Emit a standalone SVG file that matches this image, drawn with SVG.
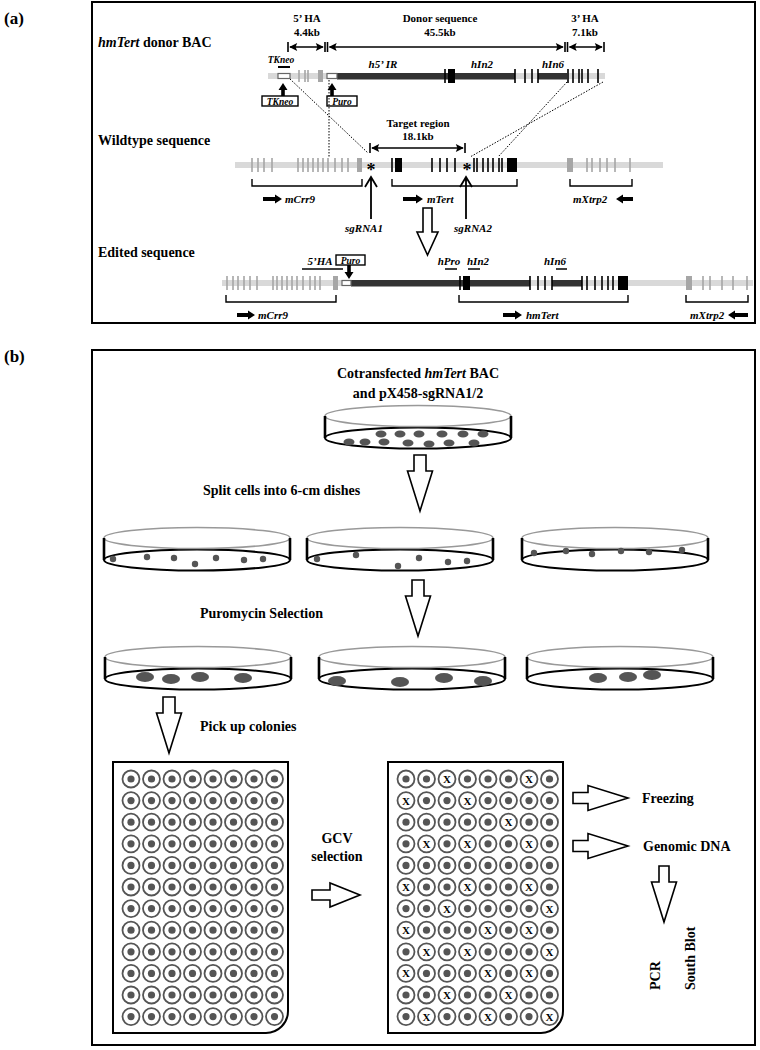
<svg xmlns="http://www.w3.org/2000/svg" width="760" height="1050" viewBox="0 0 760 1050">
<defs>
<style>
text{font-family:"Liberation Serif","Times New Roman",serif;font-weight:bold;fill:#000}
.pl{font-size:17px}
.tl{font-size:14px}
.dm{font-size:11px}
.gi{font-size:11px;font-style:italic}
.sm{font-size:9.5px;font-style:italic}
.it{font-style:italic}
.xt{font-size:11px}
.frame{fill:none;stroke:#000;stroke-width:2}
.lg{fill:#d9d9d9}
.dk{fill:#333}
.ge{stroke:#a6a6a6;stroke-width:1.6}
.gb{fill:#a6a6a6}
.bx{stroke:#000;stroke-width:1.6}
.bb{fill:#000}
.dot{fill:none;stroke:#000;stroke-width:1;stroke-dasharray:1.5 1.5}
.dim{fill:none;stroke:#000;stroke-width:1.5}
.tick{stroke:#000;stroke-width:1.6}
.brk{fill:none;stroke:#000;stroke-width:1.4}
.oa{fill:#fff;stroke:#000;stroke-width:1.6}
.cell{fill:#555}
.plate{fill:#fff;stroke:#000;stroke-width:2}
.lbox{fill:#fff;stroke:#000;stroke-width:1.4}
.wbox{fill:#fff;stroke:#666;stroke-width:1.2}
</style>
<marker id="ah" viewBox="0 0 10 10" refX="9" refY="5" markerWidth="9" markerHeight="8" markerUnits="userSpaceOnUse" orient="auto-start-reverse"><path d="M0,0 L10,5 L0,10 L2,5 z"/></marker>
<g id="dish">
<ellipse cx="0" cy="22" rx="93" ry="10.5" fill="none" stroke="#000" stroke-width="2"/>
<ellipse cx="0" cy="0" rx="93" ry="10.5" fill="none" stroke="#999" stroke-width="1.6"/>
<path d="M-93,0 V22 M93,0 V22" stroke="#000" stroke-width="2.6"/>
</g>
<g id="w"><circle r="8.5" fill="#fff" stroke="#555" stroke-width="1.8"/><circle r="3.6" fill="#555"/></g>
<g id="x"><circle r="8.5" fill="#fff" stroke="#555" stroke-width="1.8"/><text y="4" text-anchor="middle" class="xt">X</text></g>
<g id="row8"><use href="#w" x="0"/><use href="#w" x="20.5"/><use href="#w" x="41"/><use href="#w" x="61.5"/><use href="#w" x="82"/><use href="#w" x="102.5"/><use href="#w" x="123"/><use href="#w" x="143.5"/></g>
</defs>
<rect width="760" height="1050" fill="#fff"/>

<!-- ================= Panel (a) ================= -->
<g id="panelA">
<text class="pl" x="4" y="24">(a)</text>
<rect class="frame" x="92" y="2" width="663" height="321"/>
</g>

<g id="rowLabels">
<text class="tl" x="98" y="47"><tspan class="it">hmTert</tspan> donor BAC</text>
<text class="tl" x="98" y="145">Wildtype sequence</text>
<text class="tl" x="98" y="257">Edited sequence</text>
</g>

<g id="dimensions">
<line class="tick" x1="288" y1="42" x2="288" y2="52"/>
<line class="tick" x1="325" y1="42" x2="325" y2="52"/>
<line class="tick" x1="327.5" y1="42" x2="327.5" y2="52"/>
<line class="tick" x1="565" y1="42" x2="565" y2="52"/>
<line class="tick" x1="567.5" y1="42" x2="567.5" y2="52"/>
<line class="tick" x1="604" y1="42" x2="604" y2="52"/>
<line class="dim" x1="290" y1="47" x2="323" y2="47" marker-start="url(#ah)" marker-end="url(#ah)"/>
<line class="dim" x1="329.5" y1="47" x2="563" y2="47" marker-start="url(#ah)" marker-end="url(#ah)"/>
<line class="dim" x1="569.5" y1="47" x2="602" y2="47" marker-start="url(#ah)" marker-end="url(#ah)"/>
<text class="dm" x="307" y="22" text-anchor="middle">5’ HA</text>
<text class="dm" x="307" y="36" text-anchor="middle">4.4kb</text>
<text class="dm" x="440" y="22" text-anchor="middle">Donor sequence</text>
<text class="dm" x="440" y="36" text-anchor="middle">45.5kb</text>
<text class="dm" x="585" y="22" text-anchor="middle">3’ HA</text>
<text class="dm" x="585" y="36" text-anchor="middle">7.1kb</text>
</g>

<g id="donorBAC">
<rect class="lg" x="268" y="73" width="337" height="6"/>
<rect class="dk" x="337" y="73" width="178" height="6.5"/>
<rect class="dk" x="538" y="73" width="29" height="6.5"/>
<rect class="wbox" x="278" y="73.5" width="12" height="5"/>
<line x1="278" y1="67" x2="290" y2="67" stroke="#000" stroke-width="2"/>
<text class="sm" x="281" y="63" text-anchor="middle">TKneo</text>
<path class="ge" d="M299,70V82 M305,70V82 M308,70V82"/>
<rect class="gb" x="318" y="70" width="5" height="12"/>
<rect class="wbox" x="327" y="73.5" width="10" height="5"/>
<text class="gi" x="383" y="68" text-anchor="middle">h5’ IR</text>
<path class="bx" d="M445,69V83 M515,69V83 M525,69V83 M532,69V83 M538,69V83 M568,69V83 M573,69V83 M579,69V83 M582,69V83 M588,69V83 M598,69V83"/>
<rect class="bb" x="448" y="69" width="7" height="14"/>
<text class="gi" x="482" y="68" text-anchor="middle">hIn2</text>
<text class="gi" x="553" y="68" text-anchor="middle">hIn6</text>
<polygon class="bb" points="283,83 287.5,90 284.8,90 284.8,96 281.2,96 281.2,90 278.5,90"/>
<polygon class="bb" points="332,83 336.5,90 333.8,90 333.8,96 330.2,96 330.2,90 327.5,90"/>
<rect class="lbox" x="262" y="96" width="36" height="10"/>
<text class="sm" x="280" y="104.5" text-anchor="middle">TKneo</text>
<rect class="lbox" x="327" y="96" width="30" height="10"/>
<text class="sm" x="342" y="104.5" text-anchor="middle">Puro</text>
</g>

<g id="wildtype">
<rect class="lg" x="235" y="162" width="428" height="6"/>
<path class="ge" d="M252,158V172 M258,158V172 M264,158V172 M272,158V172 M298,158V172 M303,158V172 M308,158V172 M313,158V172 M318,158V172 M323,158V172 M328,158V172 M335,158V172 M342,158V172 M348,158V172 M587,158V172 M592,158V172 M600,158V172 M607,158V172 M615,158V172 M630,158V172"/>
<rect class="gb" x="357" y="158" width="5" height="14"/>
<rect class="gb" x="567" y="158" width="6" height="14"/>
<path class="bx" d="M392,158V172 M432,158V172 M440,158V172 M447,158V172 M455,158V172 M474,158V172 M477,158V172 M483,158V172 M488,158V172 M493,158V172 M499,158V172 M502,158V172"/>
<rect class="bb" x="395" y="158" width="7" height="14"/>
<rect class="bb" x="507" y="158" width="10" height="14"/>
<text x="371" y="176" font-size="18" text-anchor="middle">*</text>
<text x="467" y="176" font-size="18" text-anchor="middle">*</text>
<line class="tick" x1="370" y1="143" x2="370" y2="153"/>
<line class="tick" x1="465" y1="143" x2="465" y2="153"/>
<line class="dim" x1="372" y1="148" x2="463" y2="148" marker-start="url(#ah)" marker-end="url(#ah)"/>
<text class="dm" x="418" y="127" text-anchor="middle">Target region</text>
<text class="dm" x="418" y="140" text-anchor="middle">18.1kb</text>
<path class="brk" d="M252,179V186H362V179 M392,179V186H517V179 M570,179V186H632V179"/>
<polygon class="bb" points="263,197 275,197 275,194.5 282,199 275,203.5 275,201 263,201"/>
<text class="gi" x="285" y="203">mCrr9</text>
<polygon class="bb" points="403,197 416,197 416,194.5 423,199 416,203.5 416,201 403,201"/>
<text class="gi" x="427" y="203">mTert</text>
<text class="gi" x="573" y="203">mXtrp2</text>
<polygon class="bb" points="633,197 623,197 623,194.5 616,199 623,203.5 623,201 633,201"/>
<path d="M371,177V219 M365,187L371,177L377,187" fill="none" stroke="#000" stroke-width="1.8"/>
<path d="M466,177V219 M460,187L466,177L472,187" fill="none" stroke="#000" stroke-width="1.8"/>
<text class="gi" x="364" y="232" text-anchor="middle">sgRNA1</text>
<text class="gi" x="473" y="232" text-anchor="middle">sgRNA2</text>
</g>

<g id="connectorsA">
<line class="dot" x1="290" y1="79" x2="368" y2="153"/>
<line class="dot" x1="329" y1="80" x2="329" y2="158"/>
<line class="dot" x1="567" y1="82" x2="498" y2="157"/>
<line class="dot" x1="603" y1="82" x2="470" y2="157"/>
<polygon class="oa" points="423,208 432,208 432,232 438,232 427.5,255 417,232 423,232"/>
</g>

<g id="edited">
<rect class="lg" x="222" y="280" width="531" height="6"/>
<path class="ge" d="M227,276V290 M233,276V290 M238,276V290 M244,276V290 M250,276V290 M257,276V290 M273,276V290 M277,276V290 M282,276V290 M287,276V290 M292,276V290 M297,276V290 M303,276V290 M310,276V290 M315,276V290 M320,276V290 M703,276V290 M710,276V290 M722,276V290 M733,276V290 M747,276V290"/>
<rect class="gb" x="333" y="276" width="5" height="14"/>
<rect class="gb" x="686" y="276" width="6" height="14"/>
<rect class="dk" x="351" y="280" width="179" height="6.5"/>
<rect class="dk" x="552" y="280" width="30" height="6.5"/>
<rect class="wbox" x="342" y="280.5" width="9" height="5"/>
<path class="bx" d="M460,276V290 M530,276V290 M538,276V290 M545,276V290 M552,276V290 M582,276V290 M587,276V290 M595,276V290 M602,276V290 M608,276V290 M613,276V290"/>
<rect class="bb" x="463" y="276" width="7" height="14"/>
<rect class="bb" x="618" y="276" width="10" height="14"/>
<rect class="lbox" x="336" y="255" width="29" height="10"/>
<text class="sm" x="350.5" y="263.5" text-anchor="middle">Puro</text>
<polygon class="bb" points="349,279 353.5,272 350.8,272 350.8,265 347.2,265 347.2,272 344.5,272"/>
<line x1="302" y1="269" x2="343" y2="269" stroke="#000" stroke-width="1.5"/>
<text class="gi" x="320" y="265" text-anchor="middle">5’HA</text>
<line x1="445" y1="269" x2="457" y2="269" stroke="#000" stroke-width="1.5"/>
<text class="gi" x="449" y="265" text-anchor="middle">hPro</text>
<line x1="468" y1="269" x2="480" y2="269" stroke="#000" stroke-width="1.5"/>
<text class="gi" x="478" y="265" text-anchor="middle">hIn2</text>
<line x1="556" y1="269" x2="567" y2="269" stroke="#000" stroke-width="1.5"/>
<text class="gi" x="555" y="265" text-anchor="middle">hIn6</text>
<path class="brk" d="M226,295V302H336V295 M459,295V302H628V295 M686,295V302H748V295"/>
<polygon class="bb" points="237,313 248,313 248,310.5 255,315 248,319.5 248,317 237,317"/>
<text class="gi" x="258" y="319">mCrr9</text>
<polygon class="bb" points="503,313 515,313 515,310.5 522,315 515,319.5 515,317 503,317"/>
<text class="gi" x="526" y="319">hmTert</text>
<text class="gi" x="690" y="319">mXtrp2</text>
<polygon class="bb" points="748,313 735,313 735,310.5 728,315 735,319.5 735,317 748,317"/>
</g>

<!-- ================= Panel (b) ================= -->
<g id="panelB">
<text class="pl" x="4" y="362">(b)</text>
<rect class="frame" x="92" y="350" width="663" height="695"/>
</g>

<g id="stepLabels">
<text class="tl" x="418" y="378" text-anchor="middle">Cotransfected <tspan class="it">hmTert</tspan> BAC</text>
<text class="tl" x="418" y="398" text-anchor="middle">and pX458-sgRNA1/2</text>
<text class="tl" x="203" y="495">Split cells into 6-cm dishes</text>
<text class="tl" x="200" y="618">Puromycin Selection</text>
<text class="tl" x="200" y="731">Pick up colonies</text>
<text class="tl" x="337" y="843" text-anchor="middle">GCV</text>
<text class="tl" x="337" y="861" text-anchor="middle">selection</text>
<text class="tl" x="642" y="803">Freezing</text>
<text class="tl" x="643" y="851">Genomic DNA</text>
<text class="tl" transform="translate(660,990) rotate(-90)">PCR</text>
<text class="tl" transform="translate(695,990) rotate(-90)">South Blot</text>
</g>

<g id="dish1">
<use href="#dish" x="418" y="416"/>
<g class="cell">
<ellipse cx="381" cy="434" rx="5.5" ry="3.5"/><ellipse cx="400" cy="434" rx="5.5" ry="3.5"/><ellipse cx="419" cy="434" rx="5.5" ry="3.5"/><ellipse cx="442" cy="434" rx="5.5" ry="3.5"/><ellipse cx="463" cy="434" rx="5.5" ry="3.5"/><ellipse cx="483" cy="434" rx="5.5" ry="3.5"/>
<ellipse cx="349" cy="442" rx="5.5" ry="3.5"/><ellipse cx="365" cy="442" rx="5.5" ry="3.5"/><ellipse cx="384" cy="442" rx="5.5" ry="3.5"/><ellipse cx="408" cy="443" rx="5.5" ry="3.5"/><ellipse cx="429" cy="444" rx="5.5" ry="3.5"/><ellipse cx="449" cy="443" rx="5.5" ry="3.5"/><ellipse cx="474" cy="443" rx="5.5" ry="3.5"/>
</g>
</g>

<g id="dish2a">
<use href="#dish" x="197" y="538"/>
<g class="cell"><circle cx="113" cy="559" r="3.2"/><circle cx="147" cy="557" r="3.2"/><circle cx="174" cy="558" r="3.2"/><circle cx="195" cy="564" r="3.2"/><circle cx="216" cy="558" r="3.2"/><circle cx="244" cy="560" r="3.2"/><circle cx="263" cy="559" r="3.2"/></g>
</g>
<g id="dish2b">
<use href="#dish" x="400" y="538"/>
<g class="cell"><circle cx="317" cy="559" r="3.2"/><circle cx="356" cy="555" r="3.2"/><circle cx="398" cy="566" r="3.2"/><circle cx="419" cy="558" r="3.2"/><circle cx="448" cy="562" r="3.2"/><circle cx="467" cy="561" r="3.2"/></g>
</g>
<g id="dish2c">
<use href="#dish" x="615" y="538"/>
<g class="cell"><circle cx="534" cy="553" r="3.2"/><circle cx="566" cy="551" r="3.2"/><circle cx="592" cy="554" r="3.2"/><circle cx="621" cy="551" r="3.2"/><circle cx="649" cy="552" r="3.2"/><circle cx="682" cy="550" r="3.2"/></g>
</g>

<g id="dish3a">
<use href="#dish" x="198" y="657"/>
<g class="cell"><ellipse cx="145" cy="677" rx="9" ry="5"/><ellipse cx="171" cy="679" rx="9" ry="5"/><ellipse cx="200" cy="677" rx="9" ry="5"/><ellipse cx="243" cy="678" rx="9" ry="5"/></g>
</g>
<g id="dish3b">
<use href="#dish" x="412" y="657"/>
<g class="cell"><ellipse cx="337" cy="681" rx="9" ry="5"/><ellipse cx="400" cy="682" rx="9" ry="5"/><ellipse cx="444" cy="678" rx="9" ry="5"/><ellipse cx="483" cy="681" rx="9" ry="5"/></g>
</g>
<g id="dish3c">
<use href="#dish" x="620" y="657"/>
<g class="cell"><ellipse cx="598" cy="678" rx="9" ry="5"/><ellipse cx="628" cy="677" rx="9" ry="5"/><ellipse cx="652" cy="675" rx="9" ry="5"/></g>
</g>

<g id="plateLeft">
<path class="plate" d="M113,762 H288 V1011 A22,22 0 0 1 266,1033 H113 Z"/>
<use href="#row8" x="131" y="779"/>
<use href="#row8" x="131" y="800.6"/>
<use href="#row8" x="131" y="822.2"/>
<use href="#row8" x="131" y="843.8"/>
<use href="#row8" x="131" y="865.4"/>
<use href="#row8" x="131" y="887"/>
<use href="#row8" x="131" y="908.6"/>
<use href="#row8" x="131" y="930.2"/>
<use href="#row8" x="131" y="951.8"/>
<use href="#row8" x="131" y="973.4"/>
<use href="#row8" x="131" y="995"/>
<use href="#row8" x="131" y="1016.6"/>
</g>

<g id="plateRight">
<path class="plate" d="M388,762 H563 V1011 A22,22 0 0 1 541,1033 H388 Z"/>
<g transform="translate(406,779)"><use href="#w" x="0"/><use href="#w" x="20.5"/><use href="#x" x="41"/><use href="#w" x="61.5"/><use href="#w" x="82"/><use href="#w" x="102.5"/><use href="#x" x="123"/><use href="#w" x="143.5"/></g>
<g transform="translate(406,800.6)"><use href="#x" x="0"/><use href="#w" x="20.5"/><use href="#w" x="41"/><use href="#x" x="61.5"/><use href="#w" x="82"/><use href="#w" x="102.5"/><use href="#w" x="123"/><use href="#w" x="143.5"/></g>
<g transform="translate(406,822.2)"><use href="#w" x="0"/><use href="#w" x="20.5"/><use href="#w" x="41"/><use href="#w" x="61.5"/><use href="#w" x="82"/><use href="#x" x="102.5"/><use href="#w" x="123"/><use href="#w" x="143.5"/></g>
<g transform="translate(406,843.8)"><use href="#w" x="0"/><use href="#x" x="20.5"/><use href="#w" x="41"/><use href="#x" x="61.5"/><use href="#w" x="82"/><use href="#w" x="102.5"/><use href="#x" x="123"/><use href="#w" x="143.5"/></g>
<g transform="translate(406,865.4)"><use href="#w" x="0"/><use href="#w" x="20.5"/><use href="#w" x="41"/><use href="#w" x="61.5"/><use href="#w" x="82"/><use href="#w" x="102.5"/><use href="#w" x="123"/><use href="#w" x="143.5"/></g>
<g transform="translate(406,887)"><use href="#x" x="0"/><use href="#w" x="20.5"/><use href="#w" x="41"/><use href="#x" x="61.5"/><use href="#w" x="82"/><use href="#w" x="102.5"/><use href="#x" x="123"/><use href="#w" x="143.5"/></g>
<g transform="translate(406,908.6)"><use href="#w" x="0"/><use href="#w" x="20.5"/><use href="#x" x="41"/><use href="#w" x="61.5"/><use href="#w" x="82"/><use href="#w" x="102.5"/><use href="#w" x="123"/><use href="#x" x="143.5"/></g>
<g transform="translate(406,930.2)"><use href="#x" x="0"/><use href="#w" x="20.5"/><use href="#w" x="41"/><use href="#w" x="61.5"/><use href="#x" x="82"/><use href="#w" x="102.5"/><use href="#x" x="123"/><use href="#w" x="143.5"/></g>
<g transform="translate(406,951.8)"><use href="#w" x="0"/><use href="#x" x="20.5"/><use href="#w" x="41"/><use href="#x" x="61.5"/><use href="#w" x="82"/><use href="#w" x="102.5"/><use href="#w" x="123"/><use href="#x" x="143.5"/></g>
<g transform="translate(406,973.4)"><use href="#x" x="0"/><use href="#w" x="20.5"/><use href="#w" x="41"/><use href="#w" x="61.5"/><use href="#x" x="82"/><use href="#w" x="102.5"/><use href="#x" x="123"/><use href="#w" x="143.5"/></g>
<g transform="translate(406,995)"><use href="#w" x="0"/><use href="#w" x="20.5"/><use href="#x" x="41"/><use href="#w" x="61.5"/><use href="#w" x="82"/><use href="#x" x="102.5"/><use href="#w" x="123"/><use href="#w" x="143.5"/></g>
<g transform="translate(406,1016.6)"><use href="#w" x="0"/><use href="#x" x="20.5"/><use href="#w" x="41"/><use href="#w" x="61.5"/><use href="#x" x="82"/><use href="#w" x="102.5"/><use href="#w" x="123"/><use href="#x" x="143.5"/></g>
</g>

<g id="connectorsB">
<polygon class="oa" points="414,455 426,455 426,471 432.5,471 420,511 407.5,471 414,471"/>
<polygon class="oa" points="412,580 424,580 424,596 430.5,596 418,636 405.5,596 412,596"/>
<polygon class="oa" points="163,697 175,697 175,713 181.5,713 169,753 156.5,713 163,713"/>
<polygon class="oa" points="312,890 330,890 330,883 360,895 330,907 330,900 312,900"/>
<polygon class="oa" points="573,792.5 588,792.5 588,785.5 628,798 588,810.5 588,803.5 573,803.5"/>
<polygon class="oa" points="573,840.5 588,840.5 588,833.5 628,846 588,858.5 588,851.5 573,851.5"/>
<polygon class="oa" points="659,866 669,866 669,882 676.5,882 664,922 651.5,882 659,882"/>
</g>
</svg>
